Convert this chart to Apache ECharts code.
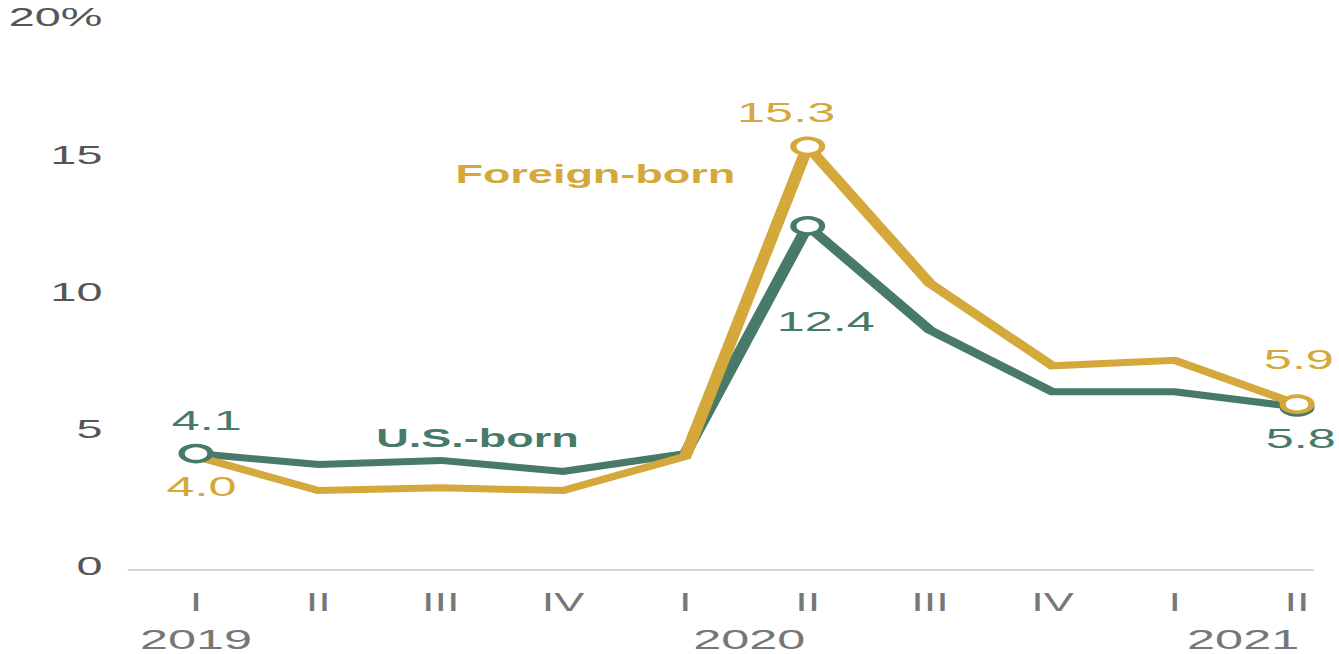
<!DOCTYPE html>
<html lang="en">
<head>
  <meta charset="UTF-8" />
  <title>Unemployment rate, U.S.-born vs foreign-born</title>
  <script src="https://cdn.jsdelivr.net/npm/echarts@6/dist/echarts.min.js"></script>
  <style>
    body {
      margin: 0;
      background: #fff;
      overflow: hidden;
    }
    /* the reference is stretched sideways, so the chart is drawn narrow and widened */
    #chart {
      width: 744px;
      height: 654px;
      transform: scaleX(1.8);
      transform-origin: 0 0;
    }
  </style>
</head>
<body>
  <div id="chart"></div>

  <script>
    // data
    const categories = ['I', 'II', 'III', 'IV', 'I', 'II', 'III', 'IV', 'I', 'II'];
    const years = ['2019', '', '', '', '2020', '', '', '', '2021', ''];
    const usBorn = [4.1, 3.7, 3.85, 3.45, 4.1, 12.4, 8.6, 6.35, 6.35, 5.8];
    const foreignBorn = [4.0, 2.75, 2.85, 2.75, 4.0, 15.3, 10.3, 7.3, 7.5, 5.9];
    const yTicks = [0, 5, 10, 15, 20];

    const GOLD = '#d4a83a';
    const GREEN = '#477a69';
    const FONT = '"Liberation Sans", Arial, sans-serif';

    // which points get a ring, and where their value label sits (chart px)
    const greenMarks = { 5: [10, 95], 9: [2, 31] };
    const greenLabelOnly = { 0: [6, -33] };
    const goldMarks = { 5: [-12, -34], 9: [1, -45] };
    const goldLabelOnly = { 0: [3, 30] };

    const buildData = (values, color, marks, labelOnly) => values.map((v, i) => {
      const item = { value: v };
      const off = marks[i] || (labelOnly && labelOnly[i]);
      if (marks[i]) {
        item.symbol = 'circle';
        item.symbolSize = 16;
      } else if (off) {
        // label without a visible ring
        item.symbol = 'circle';
        item.symbolSize = 1;
        item.itemStyle = { borderWidth: 0, color: color };
      }
      if (off) {
        item.label = {
          show: true,
          position: 'inside',
          offset: off,
          formatter: (p) => p.value.toFixed(1),
          color: color,
          fontFamily: FONT,
          fontSize: 28
        };
      }
      return item;
    });

    const chart = echarts.init(document.getElementById('chart'), null, { renderer: 'svg' });

    chart.setOption({
      animation: false,
      grid: [
        { left: 108.9, right: 23.4, top: 17.5, bottom: 86 },
        // only used for the long baseline under the plot
        { left: 71.5, right: 14.6, top: 17.5, bottom: 84 }
      ],
      xAxis: [
        {
          type: 'category',
          gridIndex: 0,
          data: categories,
          boundaryGap: false,
          axisLine: { show: false },
          axisTick: { show: false },
          axisLabel: {
            interval: 0,
            margin: 21,
            lineHeight: 30,
            fontFamily: FONT,
            fontSize: 25,
            color: '#777'
          }
        },
        {
          type: 'category',
          gridIndex: 0,
          position: 'bottom',
          data: years,
          boundaryGap: false,
          axisLine: { show: false },
          axisTick: { show: false },
          axisLabel: {
            interval: 0,
            margin: 58,
            lineHeight: 30,
            fontFamily: FONT,
            fontSize: 28,
            color: '#777',
            formatter: (v) => {
              if (v === '2020') return '{a|' + v + '}';
              if (v === '2021') return '{b|' + v + '}';
              return v;
            },
            rich: {
              a: { padding: [0, 0, 0, 71], fontFamily: FONT, fontSize: 28, color: '#777' },
              b: { padding: [0, 0, 0, 76], fontFamily: FONT, fontSize: 28, color: '#777' }
            }
          }
        },
        {
          type: 'value',
          gridIndex: 1,
          min: 0,
          max: 1,
          axisLine: { show: true, lineStyle: { color: '#c8c8c8', width: 1.5 } },
          axisTick: { show: false },
          axisLabel: { show: false },
          splitLine: { show: false }
        }
      ],
      yAxis: [
        {
          type: 'value',
          gridIndex: 0,
          min: yTicks[0],
          max: yTicks[yTicks.length - 1],
          interval: 5,
          axisLine: { show: false },
          axisTick: { show: false },
          splitLine: { show: false },
          axisLabel: {
            margin: 52,
            fontFamily: FONT,
            fontSize: 26,
            color: '#555',
            formatter: (v) => (v === 20 ? v + '%' : String(v))
          }
        },
        { type: 'value', gridIndex: 1, show: false }
      ],
      series: [
        {
          name: 'U.S.-born',
          type: 'line',
          xAxisIndex: 0,
          yAxisIndex: 0,
          data: buildData(usBorn, GREEN, greenMarks, greenLabelOnly),
          symbol: 'none',
          lineStyle: { color: GREEN, width: 7, join: 'miter' },
          itemStyle: { color: '#fff', borderColor: GREEN, borderWidth: 3.5 },
          // first ring sits above the gold line
          markPoint: {
            symbol: 'circle',
            symbolSize: 16,
            itemStyle: { color: '#fff', borderColor: GREEN, borderWidth: 3.5 },
            label: { show: false },
            data: [{ coord: [0, usBorn[0]] }]
          }
        },
        {
          name: 'Foreign-born',
          type: 'line',
          xAxisIndex: 0,
          yAxisIndex: 0,
          data: buildData(foreignBorn, GOLD, goldMarks, goldLabelOnly),
          symbol: 'none',
          lineStyle: { color: GOLD, width: 7, join: 'miter' },
          itemStyle: { color: '#fff', borderColor: GOLD, borderWidth: 3.5 }
        }
      ],
      graphic: [
        {
          type: 'text',
          x: 253,
          y: 174,
          style: { text: 'Foreign-born', fill: GOLD, font: 'bold 25px ' + FONT, verticalAlign: 'middle' }
        },
        {
          type: 'text',
          x: 209,
          y: 438,
          style: { text: 'U.S.-born', fill: GREEN, font: 'bold 25px ' + FONT, verticalAlign: 'middle' }
        }
      ]
    });
  </script>
</body>
</html>
